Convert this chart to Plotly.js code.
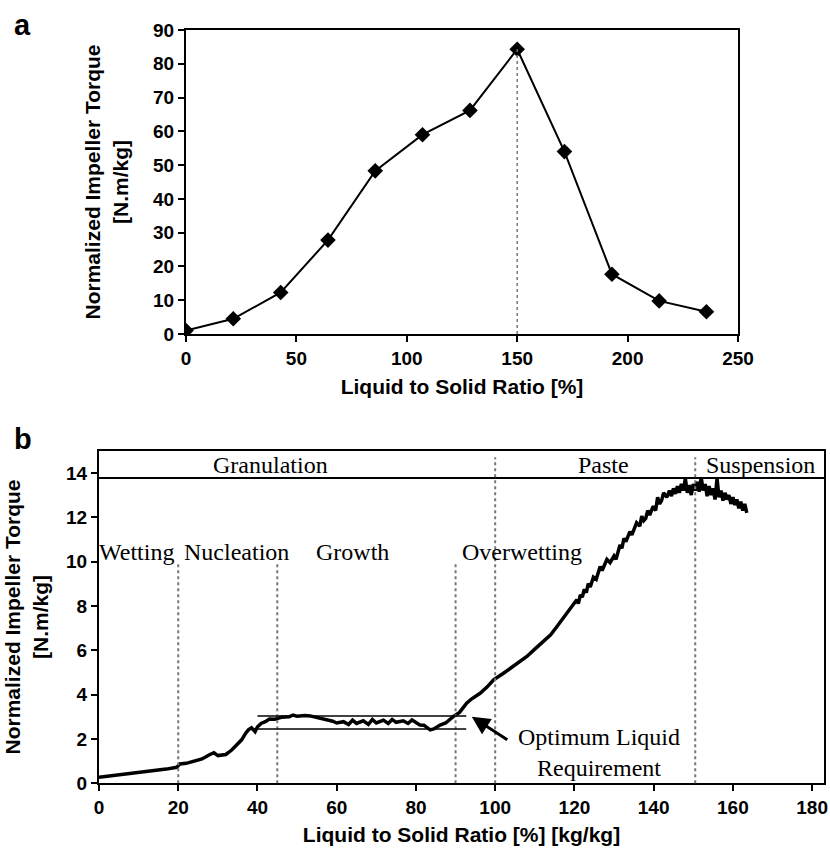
<!DOCTYPE html>
<html>
<head>
<meta charset="utf-8">
<script src="https://cdn.plot.ly/plotly-3.0.1.min.js"></script>
<style>html,body{margin:0;padding:0;background:#fff;}#chart{width:830px;height:850px;}</style>
</head>
<body>
<div id="chart"></div>
<script>
// ---- Panel a data ----
const ratioA = [0, 21.4, 42.9, 64.3, 85.7, 107.1, 128.6, 150, 171.4, 192.9, 214.3, 235.7];
const torqueA = [1, 4.5, 12.3, 27.8, 48.3, 59, 66.2, 84.3, 54, 17.7, 9.8, 6.6];
const peakRatioA = 150;

// ---- Panel b data ----
const ratioB = [0, 3, 7, 11, 14, 17, 19.6, 20.4, 22, 24, 26, 28, 29, 30, 31, 32, 33.5, 35, 36, 37, 37.7, 38.5, 39.4, 40, 41, 42, 43, 44.4, 46, 48, 49, 50, 52, 53.3, 55, 57.5, 59, 60, 61.7, 63, 64, 65, 66.7, 68, 69, 70, 71.8, 73, 74, 75, 76.8, 78, 79, 80, 81, 82, 83.6, 84.5, 86.1, 87.5, 89.4, 91, 92.8, 94, 96.2, 98, 99.6, 102, 104, 106, 108, 110, 112, 114, 115.6, 117, 118, 119, 120.6, 121, 121.5, 122, 122.5, 123, 123.5, 124, 124.8, 125.5, 126.5, 127, 128.2, 129, 130, 130.5, 131.5, 132, 132.5, 133, 134, 134.5, 135.7, 136.5, 137, 137.5, 138, 138.5, 139, 139.9, 140.5, 141, 141.5, 142, 142.5, 143.3, 144, 144.5, 145, 145.5, 146, 146.5, 147, 147.5, 148, 148.5, 149, 149.5, 150, 150.5, 151, 151.5, 152, 152.5, 153, 153.5, 154, 154.5, 155, 155.5, 156, 156.5, 157, 157.5, 158, 158.5, 159, 159.5, 160, 160.5, 161, 161.5, 162, 162.5, 163, 163.5];
const torqueB = [0.27, 0.33, 0.42, 0.5, 0.56, 0.64, 0.72, 0.87, 0.9, 1.0, 1.1, 1.3, 1.38, 1.25, 1.28, 1.3, 1.5, 1.75, 1.96, 2.25, 2.41, 2.5, 2.33, 2.55, 2.71, 2.78, 2.9, 2.89, 2.98, 3.0, 3.08, 3.02, 3.06, 3.04, 2.98, 2.86, 2.8, 2.72, 2.78, 2.65, 2.85, 2.7, 2.82, 2.66, 2.88, 2.72, 2.85, 2.7, 2.88, 2.75, 2.82, 2.7, 2.86, 2.74, 2.63, 2.62, 2.41, 2.45, 2.63, 2.72, 3.01, 3.2, 3.61, 3.8, 4.06, 4.35, 4.67, 4.95, 5.2, 5.45, 5.72, 6.05, 6.35, 6.7, 7.07, 7.4, 7.7, 7.9, 8.28, 8.1, 8.5, 8.4, 8.75, 8.6, 9.0, 8.85, 9.3, 9.2, 9.78, 9.6, 10.1, 9.95, 10.25, 10.1, 10.75, 10.6, 11.05, 10.9, 11.35, 11.2, 11.75, 11.6, 12.05, 11.85, 11.95, 12.3, 12.1, 12.5, 12.3, 12.9, 12.6, 12.75, 13.1, 12.9, 13.2, 12.95, 13.3, 13.05, 13.4, 13.1, 13.5, 13.2, 13.75, 13.1, 13.45, 13.0, 13.5, 13.2, 13.6, 13.15, 13.8, 13.2, 13.5, 12.95, 13.4, 13.0, 13.3, 12.8, 13.75, 12.9, 13.2, 12.75, 13.1, 12.8, 13.0, 12.6, 12.9, 12.55, 12.8, 12.4, 12.7, 12.3, 12.6, 12.2];

const regimeLine = 13.77;
const regimeBounds = [100, 150.5];
const stageBounds = [20, 45, 90];
const stageTop = 10;
const regimeNames = ['Granulation', 'Paste', 'Suspension'];
const regimeX = [43.2, 127.3, 167];
const regimeY = 14.35;
const stageNames = ['Wetting', 'Nucleation', 'Growth', 'Overwetting'];
const stageX = [9.4, 34.6, 64, 106.7];
const stageY = 10.45;
const bandRange = [40, 92.7];
const bandLevels = [3.04, 2.45];
const optimumPoint = [94.1, 3.0];
const optimumLabel = 'Optimum Liquid<br>Requirement';
const optimumLabelPos = [126.3, 1.4];

const ticksAX = [0, 50, 100, 150, 200, 250];
const ticksAY = [0, 10, 20, 30, 40, 50, 60, 70, 80, 90];
const ticksBX = [0, 20, 40, 60, 80, 100, 120, 140, 160, 180];
const ticksBY = [0, 2, 4, 6, 8, 10, 12, 14];

const SANS = 'Liberation Sans, Arial, sans-serif';
const SERIF = 'Liberation Serif, Times New Roman, serif';
const W = 830, H = 850;

const traces = [
  {x: ratioA, y: torqueA, xaxis: 'x', yaxis: 'y', type: 'scatter', mode: 'lines+markers',
   line: {color: '#000', width: 2}, marker: {symbol: 'diamond', size: 12, color: '#000'}},
  {x: ratioB, y: torqueB, xaxis: 'x2', yaxis: 'y2', type: 'scatter', mode: 'lines',
   line: {color: '#000', width: 3.5}}
];

const axisCommon = {
  showline: true, linewidth: 2, linecolor: '#000', mirror: true,
  ticks: 'outside', ticklen: 6, tickwidth: 2, tickcolor: '#000',
  showgrid: false, zeroline: false, fixedrange: true,
  tickfont: {family: SANS, size: 19, color: '#000', weight: 'bold'}
};
const titleFont = {family: SANS, size: 21, color: '#000', weight: 'bold'};

const shapes = [];
shapes.push({type: 'line', xref: 'x', yref: 'y', x0: peakRatioA, x1: peakRatioA, y0: 0,
  y1: torqueA[ratioA.indexOf(peakRatioA)], line: {color: '#777', width: 1.5, dash: 'dot'}});
shapes.push({type: 'line', xref: 'x2 domain', yref: 'y2', x0: 0, x1: 1, y0: regimeLine, y1: regimeLine,
  line: {color: '#000', width: 2}});
regimeBounds.forEach(b => shapes.push({type: 'line', xref: 'x2', yref: 'y2 domain', x0: b, x1: b, y0: 0, y1: 0.98,
  line: {color: '#777', width: 2, dash: 'dot'}}));
stageBounds.forEach(b => shapes.push({type: 'line', xref: 'x2', yref: 'y2', x0: b, x1: b, y0: 0, y1: stageTop,
  line: {color: '#777', width: 2, dash: 'dot'}}));
bandLevels.forEach(v => shapes.push({type: 'line', xref: 'x2', yref: 'y2', x0: bandRange[0], x1: bandRange[1], y0: v, y1: v,
  line: {color: '#000', width: 1.5}}));

const annotations = [];
annotations.push({xref: 'paper', yref: 'paper', x: 22 / W, y: 1 - 25 / H, text: '<b>a</b>', showarrow: false,
  font: {family: SANS, size: 29, color: '#000'}, xanchor: 'center', yanchor: 'middle'});
annotations.push({xref: 'paper', yref: 'paper', x: 23 / W, y: 1 - 439 / H, text: '<b>b</b>', showarrow: false,
  font: {family: SANS, size: 29, color: '#000'}, xanchor: 'center', yanchor: 'middle'});
regimeNames.forEach((n, i) => annotations.push({xref: 'x2', yref: 'y2', x: regimeX[i], y: regimeY, text: n,
  showarrow: false, font: {family: SERIF, size: 24, color: '#000'}, xanchor: 'center', yanchor: 'middle'}));
stageNames.forEach((n, i) => annotations.push({xref: 'x2', yref: 'y2', x: stageX[i], y: stageY, text: n,
  showarrow: false, font: {family: SERIF, size: 24, color: '#000'}, xanchor: 'center', yanchor: 'middle'}));
annotations.push({xref: 'x2', yref: 'y2', x: optimumLabelPos[0], y: optimumLabelPos[1], text: optimumLabel,
  showarrow: false, font: {family: SERIF, size: 24, color: '#000'}, xanchor: 'center', yanchor: 'middle'});
annotations.push({xref: 'x2', yref: 'y2', x: optimumPoint[0], y: optimumPoint[1], text: '', showarrow: true,
  ax: 37, ay: 24, arrowhead: 2, arrowsize: 1.2, arrowwidth: 3, arrowcolor: '#000', standoff: 0});

const layout = {
  width: W, height: H, margin: {l: 0, r: 0, t: 0, b: 0},
  paper_bgcolor: '#fff', plot_bgcolor: '#fff', showlegend: false,
  font: {family: SANS, color: '#000'},
  xaxis: Object.assign({}, axisCommon, {domain: [186 / W, 738 / W], range: [0, 250], anchor: 'y', tickvals: ticksAX,
    title: {text: 'Liquid to Solid Ratio [%]', font: titleFont, standoff: 12}}),
  yaxis: Object.assign({}, axisCommon, {domain: [1 - 334 / H, 1 - 30 / H], range: [0, 90], anchor: 'x', tickvals: ticksAY,
    title: {text: 'Normalized Impeller Torque<br>[N.m/kg]', font: titleFont, standoff: 19}}),
  xaxis2: Object.assign({}, axisCommon, {domain: [99 / W, 824 / W], range: [0, 183], anchor: 'y2', tickvals: ticksBX,
    title: {text: 'Liquid to Solid Ratio [%] [kg/kg]', font: titleFont, standoff: 10}}),
  yaxis2: Object.assign({}, axisCommon, {domain: [1 - 783.3 / H, 1 - 450.7 / H], range: [0, 15], anchor: 'x2', tickvals: ticksBY,
    title: {text: 'Normalized Impeller Torque<br>[N.m/kg]', font: titleFont, standoff: 12}}),
  shapes: shapes, annotations: annotations
};

Plotly.newPlot('chart', traces, layout, {staticPlot: true, displayModeBar: false});
</script>
</body>
</html>
